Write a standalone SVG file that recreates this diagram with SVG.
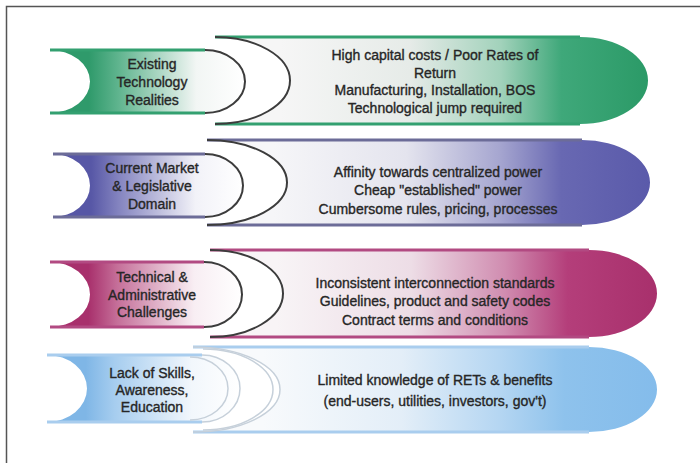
<svg xmlns="http://www.w3.org/2000/svg" width="700" height="463" viewBox="0 0 700 463">
  <defs>
    <!-- left tab fills: strong colour near the notch, fading to white -->
    <linearGradient id="tabGreen" x1="0" y1="0" x2="1" y2="0">
      <stop offset="0.2" stop-color="#2f9a6b"/>
      <stop offset="0.35" stop-color="#5fb48e"/>
      <stop offset="0.75" stop-color="#f2f6f4"/>
      <stop offset="1" stop-color="#ffffff"/>
    </linearGradient>
    <linearGradient id="tabPurple" x1="0" y1="0" x2="1" y2="0">
      <stop offset="0.2" stop-color="#5757a6"/>
      <stop offset="0.35" stop-color="#8585c0"/>
      <stop offset="0.75" stop-color="#f2f2f8"/>
      <stop offset="1" stop-color="#ffffff"/>
    </linearGradient>
    <linearGradient id="tabMagenta" x1="0" y1="0" x2="1" y2="0">
      <stop offset="0.2" stop-color="#a8306c"/>
      <stop offset="0.35" stop-color="#c56f99"/>
      <stop offset="0.75" stop-color="#f8eef3"/>
      <stop offset="1" stop-color="#ffffff"/>
    </linearGradient>
    <linearGradient id="tabBlue" x1="0" y1="0" x2="1" y2="0">
      <stop offset="0.2" stop-color="#7fb6e6"/>
      <stop offset="0.35" stop-color="#a6cdef"/>
      <stop offset="0.75" stop-color="#f2f7fc"/>
      <stop offset="1" stop-color="#ffffff"/>
    </linearGradient>
    <!-- right bar fills: white on the left, colour towards the rounded tip -->
    <linearGradient id="barGreen" x1="0" y1="0" x2="1" y2="0">
      <stop offset="0.15" stop-color="#f6f6f6"/>
      <stop offset="0.45" stop-color="#e6ebe8"/>
      <stop offset="0.66" stop-color="#a2d2bb"/>
      <stop offset="0.8" stop-color="#3fa87a"/>
      <stop offset="1" stop-color="#2b9a67"/>
    </linearGradient>
    <linearGradient id="barPurple" x1="0" y1="0" x2="1" y2="0">
      <stop offset="0.15" stop-color="#f6f6f8"/>
      <stop offset="0.45" stop-color="#e4e4ee"/>
      <stop offset="0.66" stop-color="#a6a6d0"/>
      <stop offset="0.8" stop-color="#6868b2"/>
      <stop offset="1" stop-color="#5a5aaa"/>
    </linearGradient>
    <linearGradient id="barMagenta" x1="0" y1="0" x2="1" y2="0">
      <stop offset="0.15" stop-color="#f8f4f6"/>
      <stop offset="0.45" stop-color="#eddde6"/>
      <stop offset="0.66" stop-color="#d08cb0"/>
      <stop offset="0.8" stop-color="#b43e7a"/>
      <stop offset="1" stop-color="#a8306c"/>
    </linearGradient>
    <linearGradient id="barBlue" x1="0" y1="0" x2="1" y2="0">
      <stop offset="0.15" stop-color="#f8fafc"/>
      <stop offset="0.45" stop-color="#e3eef8"/>
      <stop offset="0.66" stop-color="#b5d6f2"/>
      <stop offset="0.8" stop-color="#8ec2ec"/>
      <stop offset="1" stop-color="#84bceb"/>
    </linearGradient>
  </defs>
  <style>
    .txt { font-family: "Liberation Sans", Arial, sans-serif; font-size: 14px; fill: #262626; stroke: #262626; stroke-width: 0.35; text-anchor: middle; }
    .arc { fill: none; stroke: #3c3c3c; stroke-width: 2; }
    .arcLight { fill: none; stroke: #c6d0da; stroke-width: 1.5; }
    .edgeGreen { fill: none; stroke: #33a070; stroke-width: 3; }
    .edgePurple { fill: none; stroke: #6c6c98; stroke-width: 3; }
    .edgeMagenta { fill: none; stroke: #b24a82; stroke-width: 3; }
    .edgeBlue { fill: none; stroke: #a9cdee; stroke-width: 3; }
  </style>

  <rect width="700" height="463" fill="#ffffff"/>
  <!-- frame lines -->
  <path d="M6.5,463 V6.5 H700" fill="none" stroke="#555555" stroke-width="1.5"/>

  <!-- Row 1: green -->
  <g id="row1-bar">
    <path d="M215,37 H580 A68,43.5 0 0 1 580,124 H215 A75,43.5 0 0 0 215,37 Z" fill="url(#barGreen)"/>
    <path class="edgeGreen" d="M215,37 H580 M215,124 H580"/>
    <path class="arc" d="M215,37 A75,43.5 0 0 1 215,124"/>
    <text class="txt" x="435" y="60">High capital costs / Poor Rates of</text>
    <text class="txt" x="435" y="77.5">Return</text>
    <text class="txt" x="435" y="95">Manufacturing, Installation, BOS</text>
    <text class="txt" x="435" y="112.5">Technological jump required</text>
  </g>
  <g id="row1-tab">
    <path d="M50,50 H205 A40,31.5 0 0 1 205,113 H50 A40,31.5 0 0 0 50,50 Z" fill="url(#tabGreen)"/>
    <path class="edgeGreen" d="M50,50 H205 M50,113 H205"/>
    <path class="arc" d="M205,50 A40,31.5 0 0 1 205,113"/>
    <text class="txt" x="152" y="68.5">Existing</text>
    <text class="txt" x="152" y="86.5">Technology</text>
    <text class="txt" x="152" y="104.5">Realities</text>
  </g>

  <!-- Row 2: purple -->
  <g id="row2-bar">
    <path d="M207,140 H582 A68,42.5 0 0 1 582,225 H207 A80,42.5 0 0 0 207,140 Z" fill="url(#barPurple)"/>
    <path class="edgePurple" d="M207,140 H582 M207,225 H582"/>
    <path class="arc" d="M207,140 A80,42.5 0 0 1 207,225"/>
    <text class="txt" x="438" y="177">Affinity towards centralized power</text>
    <text class="txt" x="438" y="195">Cheap "established" power</text>
    <text class="txt" x="438" y="214">Cumbersome rules, pricing, processes</text>
  </g>
  <g id="row2-tab">
    <path d="M53,154 H205 A38,31.5 0 0 1 205,217 H53 A37,31.5 0 0 0 53,154 Z" fill="url(#tabPurple)"/>
    <path class="edgePurple" d="M53,154 H205 M53,217 H205"/>
    <path class="arc" d="M205,154 A38,31.5 0 0 1 205,217"/>
    <text class="txt" x="152" y="173">Current Market</text>
    <text class="txt" x="152" y="191">&amp; Legislative</text>
    <text class="txt" x="152" y="209">Domain</text>
  </g>

  <!-- Row 3: magenta -->
  <g id="row3-bar">
    <path d="M210,250 H589 A68,43.5 0 0 1 589,337 H210 A73,43.5 0 0 0 210,250 Z" fill="url(#barMagenta)"/>
    <path class="edgeMagenta" d="M210,250 H589 M210,337 H589"/>
    <path class="arc" d="M210,250 A73,43.5 0 0 1 210,337"/>
    <text class="txt" x="435" y="288">Inconsistent interconnection standards</text>
    <text class="txt" x="435" y="306">Guidelines, product and safety codes</text>
    <text class="txt" x="435" y="325">Contract terms and conditions</text>
  </g>
  <g id="row3-tab">
    <path d="M50,262 H204 A38,32.5 0 0 1 204,327 H50 A40,32.5 0 0 0 50,262 Z" fill="url(#tabMagenta)"/>
    <path class="edgeMagenta" d="M50,262 H204 M50,327 H204"/>
    <path class="arc" d="M204,262 A38,32.5 0 0 1 204,327"/>
    <text class="txt" x="152" y="282">Technical &amp;</text>
    <text class="txt" x="152" y="300">Administrative</text>
    <text class="txt" x="152" y="317">Challenges</text>
  </g>

  <!-- Row 4: light blue -->
  <g id="row4-bar">
    <path d="M193,347 H589 A68,42.5 0 0 1 589,432 H193 A87,42.5 0 0 0 193,347 Z" fill="url(#barBlue)"/>
    <path class="edgeBlue" d="M193,347 H589 M193,432 H589"/>
    <path class="arcLight" d="M193,347 A87,42.5 0 0 1 193,432"/>
    <path class="arcLight" d="M203,349 A70,40.5 0 0 1 203,430"/>
    <text class="txt" x="435" y="385">Limited knowledge of RETs &amp; benefits</text>
    <text class="txt" x="435" y="406">(end-users, utilities, investors, gov't)</text>
  </g>
  <g id="row4-tab">
    <path d="M47,355 H202 A38,33.5 0 0 1 202,422 H47 A40,33.5 0 0 0 47,355 Z" fill="url(#tabBlue)"/>
    <path class="edgeBlue" d="M47,355 H202 M47,422 H202"/>
    <path class="arcLight" d="M202,355 A38,33.5 0 0 1 202,422"/>
    <path class="arcLight" d="M190,357 A38,31.5 0 0 1 190,420"/>
    <text class="txt" x="152" y="378">Lack of Skills,</text>
    <text class="txt" x="152" y="395">Awareness,</text>
    <text class="txt" x="152" y="412">Education</text>
  </g>
</svg>
